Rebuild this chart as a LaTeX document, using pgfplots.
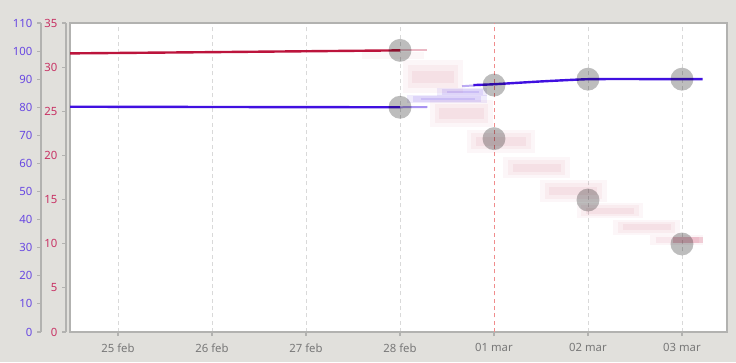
\documentclass[border=0pt]{standalone}
\usepackage{fontspec}
\setmainfont{Noto Sans}
\usepackage{pgfplots}
\pgfplotsset{compat=1.18}
\definecolor{bg}{RGB}{225,224,220}
\definecolor{bl}{RGB}{64,16,224}
\definecolor{bllab}{RGB}{104,72,226}
\definecolor{rd}{RGB}{188,20,60}
\definecolor{rdlab}{RGB}{200,50,100}
\definecolor{axgray}{RGB}{178,178,176}
\definecolor{lab}{RGB}{120,120,120}
\definecolor{redgrid}{RGB}{240,140,140}
\pgfplotsset{
  base/.style={scale only axis, width=492.75pt, height=231.75pt,
    at={(52.5pt,22.5pt)}, anchor=south west, xmin=-0.511, xmax=6.479},
  yax/.style={scale only axis, width=1pt, height=231.75pt, anchor=south west,
    xmin=0, xmax=1, axis y line*=left, axis x line=none, hide x axis,
    tick align=outside, major tick length=3pt,
    axis line style={draw=axgray, line width=0.8pt},
    ytick style={draw=axgray, line width=0.8pt},
    /pgf/number format/assume math mode=true,
    yticklabel style={font=\fontsize{8.5}{10}\selectfont}},
  circ/.style={only marks, mark=*, mark size=8.6pt, color=black!26,
    mark options={draw opacity=0, fill=black, fill opacity=0.26, line width=0pt}},
  band/.style={line cap=butt, draw=#1},
}
\begin{document}
\begin{tikzpicture}
\fill[bg] (0,0) rectangle (552pt,271.5pt);
% main axis (blue scale)
\begin{axis}[base, ymin=0, ymax=110,
  axis background/.style={fill=white},
  axis line style={draw=axgray, line width=0.8pt},
  ytick=\empty, xtick={0,...,6}, xtick pos=left,
  xticklabels={25 feb,26 feb,27 feb,28 feb,01 mar,02 mar,03 mar},
  tick align=outside, major tick length=3pt,
  xtick style={draw=axgray, line width=0.8pt},
  xmajorgrids, grid style={draw=gray!30, dash pattern=on 3pt off 2.5pt, line width=0.6pt},
  xticklabel style={text=lab, font=\fontsize{8.5}{10}\selectfont, yshift=-2pt},
  clip=true]
\addplot[draw=redgrid, dash pattern=on 3pt off 2.5pt, line width=0.7pt] coordinates {(4,0) (4,110)};
% blue line
\addplot[bl, line width=1.8pt] coordinates {(-0.6,80.2) (1,80.1) (2,80.05) (3,80.0)};
\addplot[bl, line width=1.5pt, opacity=0.45] coordinates {(3,80.0) (3.29,80.1)};
\addplot[band=bl, line width=6pt, opacity=0.08] coordinates {(3.07,82.9) (3.93,82.9)};
\addplot[band=bl, line width=4pt, opacity=0.1] coordinates {(3.14,82.9) (3.86,82.9)};
\addplot[band=bl, line width=2pt, opacity=0.12] coordinates {(3.22,82.9) (3.8,82.9)};
\addplot[band=bl, line width=6pt, opacity=0.08] coordinates {(3.39,85.4) (3.93,85.4)};
\addplot[band=bl, line width=4pt, opacity=0.1] coordinates {(3.45,85.4) (3.88,85.4)};
\addplot[band=bl, line width=2pt, opacity=0.12] coordinates {(3.5,85.4) (3.84,85.4)};
\addplot[bl, line width=1.5pt, opacity=0.35] coordinates {(3.66,87.5) (3.8,87.8)};
\addplot[bl, line width=1.8pt, smooth, tension=0.3] coordinates {(3.78,87.9) (4,88.2) (4.5,89.2) (5,90.0) (5.5,90.05) (6,90.0) (6.22,90.0)};
\addplot[circ] coordinates {(3,80.0) (4,87.9) (5,90.0) (6,90.0)};
\end{axis}
% red data axis
\begin{axis}[base, ymin=0, ymax=35, hide axis, clip=true]
\addplot[band=rd, line width=5pt, opacity=0.03] coordinates {(2.6,31.3) (3.25,31.3)};
\addplot[rd, line width=1.8pt] coordinates {(-0.6,31.55) (1,31.7) (2,31.8) (3,31.9)};
\addplot[rd, line width=1.5pt, opacity=0.3] coordinates {(3,31.9) (3.29,31.9)};
\addplot[band=rd, line width=24.75pt, opacity=0.035] coordinates {(3.03,28.94) (3.67,28.94)};
\addplot[band=rd, line width=17pt, opacity=0.045] coordinates {(3.08,28.94) (3.62,28.94)};
\addplot[band=rd, line width=9pt, opacity=0.055] coordinates {(3.13,28.94) (3.57,28.94)};
\addplot[band=rd, line width=20.25pt, opacity=0.035] coordinates {(3.32,24.75) (3.99,24.75)};
\addplot[band=rd, line width=14pt, opacity=0.045] coordinates {(3.37,24.75) (3.94,24.75)};
\addplot[band=rd, line width=8pt, opacity=0.055] coordinates {(3.42,24.75) (3.89,24.75)};
\addplot[band=rd, line width=17.25pt, opacity=0.035] coordinates {(3.71,21.58) (4.44,21.58)};
\addplot[band=rd, line width=12pt, opacity=0.045] coordinates {(3.76,21.58) (4.39,21.58)};
\addplot[band=rd, line width=7pt, opacity=0.055] coordinates {(3.81,21.58) (4.34,21.58)};
\addplot[band=rd, line width=15.75pt, opacity=0.035] coordinates {(4.10,18.63) (4.81,18.63)};
\addplot[band=rd, line width=11pt, opacity=0.045] coordinates {(4.15,18.63) (4.76,18.63)};
\addplot[band=rd, line width=6pt, opacity=0.055] coordinates {(4.2,18.63) (4.71,18.63)};
\addplot[band=rd, line width=16.5pt, opacity=0.035] coordinates {(4.49,15.97) (5.20,15.97)};
\addplot[band=rd, line width=11.5pt, opacity=0.045] coordinates {(4.54,15.97) (5.15,15.97)};
\addplot[band=rd, line width=6.5pt, opacity=0.055] coordinates {(4.59,15.97) (5.1,15.97)};
\addplot[band=rd, line width=11.25pt, opacity=0.035] coordinates {(4.88,13.76) (5.59,13.76)};
\addplot[band=rd, line width=8pt, opacity=0.045] coordinates {(4.93,13.76) (5.54,13.76)};
\addplot[band=rd, line width=4.5pt, opacity=0.055] coordinates {(4.98,13.76) (5.49,13.76)};
\addplot[band=rd, line width=11.25pt, opacity=0.035] coordinates {(5.27,11.84) (5.98,11.84)};
\addplot[band=rd, line width=8pt, opacity=0.045] coordinates {(5.32,11.84) (5.93,11.84)};
\addplot[band=rd, line width=4.5pt, opacity=0.055] coordinates {(5.37,11.84) (5.88,11.84)};
\addplot[band=rd, line width=7.5pt, opacity=0.04] coordinates {(5.66,10.42) (6.22,10.42)};
\addplot[band=rd, line width=4.5pt, opacity=0.06] coordinates {(5.72,10.42) (6.18,10.42)};
\addplot[band=rd, line width=5pt, opacity=0.18] coordinates {(5.9,10.42) (6.22,10.42)};
\addplot[circ] coordinates {(3,31.9) (4,21.9) (5,14.95) (6,9.97)};
\end{axis}
% blue y axis
\begin{axis}[yax, at={(30.75pt,22.5pt)}, ymin=0, ymax=110, ytick={0,10,...,110},
  yticklabel style={text=bllab}]
\end{axis}
% red y axis
\begin{axis}[yax, at={(49.5pt,22.5pt)}, ymin=0, ymax=35, ytick={0,5,...,35},
  yticklabel style={text=rdlab}]
\end{axis}
\pgfresetboundingbox
\useasboundingbox (0,0) rectangle (552pt,271.5pt);
\end{tikzpicture}
\end{document}
